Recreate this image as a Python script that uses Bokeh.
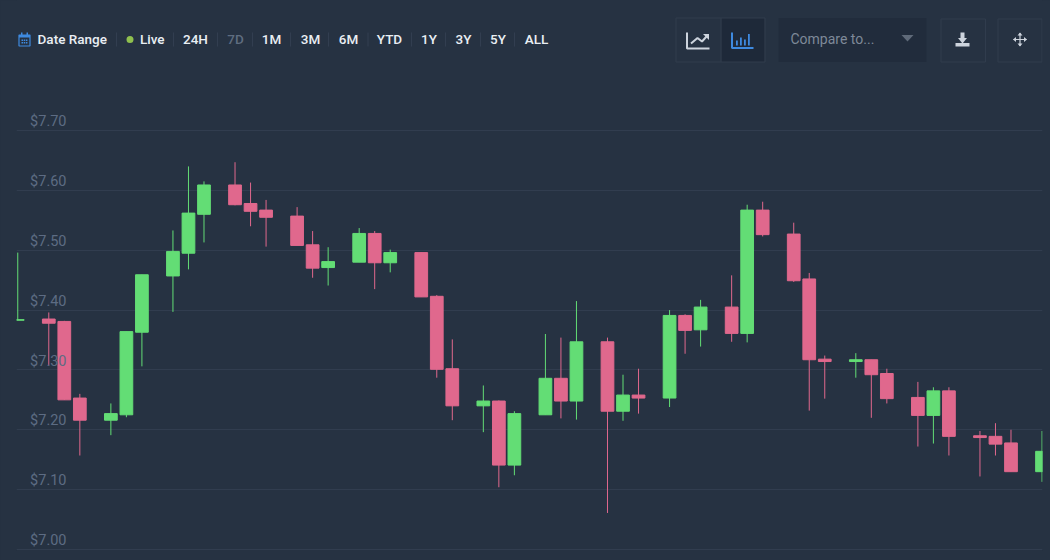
from bokeh.plotting import figure
from bokeh.models import Range1d, FixedTicker, LinearAxis, ColumnDataSource, Grid
from bokeh.core.properties import value
from bokeh.embed import file_html
from bokeh.resources import INLINE

# ---- data ----
index = [-2, 0, 1, 2, 4, 5, 6, 8, 9, 10, 12, 13, 14, 16, 17, 18, 20, 21, 22, 24, 25, 26, 28, 29, 30,
         32, 33, 34, 36, 37, 38, 40, 41, 42, 44, 45, 46, 48, 49, 50, 52, 53, 54, 56, 57, 58, 60, 61, 62, 64]
opens = [7.383, 7.385, 7.381, 7.253, 7.216, 7.225, 7.363, 7.457, 7.495, 7.560, 7.609, 7.578, 7.567,
         7.557, 7.509, 7.471, 7.480, 7.528, 7.479, 7.496, 7.423, 7.302, 7.240, 7.248, 7.141,
         7.225, 7.286, 7.248, 7.347, 7.231, 7.258, 7.253, 7.391, 7.367, 7.405, 7.361, 7.567,
         7.527, 7.452, 7.318, 7.314, 7.317, 7.294, 7.254, 7.224, 7.265, 7.190, 7.189, 7.178, 7.130]
highs = [7.496, 7.396, 7.382, 7.260, 7.244, 7.364, 7.459, 7.533, 7.640, 7.615, 7.647, 7.613, 7.584,
         7.572, 7.532, 7.505, 7.537, 7.532, 7.501, 7.496, 7.425, 7.351, 7.274, 7.249, 7.231,
         7.360, 7.354, 7.415, 7.354, 7.292, 7.302, 7.400, 7.393, 7.417, 7.458, 7.576, 7.581,
         7.546, 7.462, 7.324, 7.328, 7.317, 7.302, 7.280, 7.271, 7.271, 7.198, 7.211, 7.200, 7.198]
lows = [7.383, 7.307, 7.250, 7.157, 7.191, 7.221, 7.306, 7.397, 7.468, 7.513, 7.575, 7.540, 7.506,
        7.508, 7.454, 7.441, 7.480, 7.435, 7.463, 7.422, 7.287, 7.216, 7.196, 7.104, 7.124,
        7.225, 7.219, 7.217, 7.061, 7.215, 7.227, 7.238, 7.327, 7.339, 7.347, 7.346, 7.523,
        7.447, 7.232, 7.252, 7.287, 7.220, 7.244, 7.172, 7.177, 7.157, 7.122, 7.157, 7.130, 7.113]
closes = [7.384, 7.378, 7.250, 7.216, 7.227, 7.364, 7.459, 7.498, 7.562, 7.609, 7.576, 7.565, 7.555,
          7.508, 7.470, 7.481, 7.528, 7.479, 7.496, 7.422, 7.301, 7.240, 7.248, 7.141, 7.227,
          7.286, 7.248, 7.347, 7.231, 7.258, 7.253, 7.391, 7.366, 7.405, 7.361, 7.567, 7.526,
          7.449, 7.317, 7.314, 7.317, 7.292, 7.252, 7.224, 7.265, 7.189, 7.187, 7.176, 7.130, 7.164]
price_ticks = [7.00, 7.10, 7.20, 7.30, 7.40, 7.50, 7.60, 7.70]
range_labels = ["24H", "7D", "1M", "3M", "6M", "YTD", "1Y", "3Y", "5Y", "ALL"]

# ---- colours ----
BG = "#263242"
GREEN = "#63dd75"
PINK = "#e0688d"
GRID = "#313d4f"
TICK = "#5d6c83"
BLUE = "#3e8ae0"
ICON = "#cdd4dd"
FONT = "Roboto"

y0, y1 = 6.9983, 7.9172
p = figure(width=1050, height=560, output_backend="svg", toolbar_location=None,
           x_range=Range1d(-2.081, 64.03), y_range=Range1d(y0, y1),
           x_axis_location=None, y_axis_location=None,
           min_border_left=16, min_border_right=8, min_border_top=0, min_border_bottom=10,
           background_fill_color=BG, border_fill_color=BG,
           outline_line_color=None,
           styles={"position": "fixed", "left": "0", "top": "0", "background-color": BG})
p.xgrid.visible = False
p.ygrid.visible = False
p.extra_x_ranges["px"] = Range1d(16, 1042)
p.extra_y_ranges["py"] = Range1d(550, 0)
# tick labels sit just above their gridlines
p.extra_y_ranges["labels"] = Range1d(y0 - 0.0148, y1 - 0.0148)

axis = LinearAxis(y_range_name="labels", ticker=FixedTicker(ticks=price_ticks), axis_line_color=None,
                  major_tick_line_color=None, minor_tick_line_color=None,
                  major_label_standoff=-56, major_label_text_color=TICK,
                  major_label_text_font=FONT, major_label_text_font_size="14.5px",
                  major_label_overrides={t: f"${t:.2f}" for t in price_ticks})
p.add_layout(axis, "left")
p.add_layout(Grid(dimension=1, ticker=FixedTicker(ticks=price_ticks), grid_line_color=GRID, grid_line_width=1))

colors = [GREEN if c >= o else PINK for o, c in zip(opens, closes)]
src = ColumnDataSource(dict(x=index, o=opens, h=highs, l=lows, c=closes, color=colors))
p.segment("x", "h", "x", "l", source=src, line_color="color", line_width=1)
p.vbar(x="x", top="o", bottom="c", width=0.82, source=src, fill_color="color", line_color="color", line_width=1)

# ---- page chrome, in pixel ranges ----
R = dict(x_range_name="px", y_range_name="py")
def box(l, t, r, b, fill=None, line=None, w=1):
    p.quad(left=[l], right=[r], top=[t], bottom=[b], fill_color=fill, fill_alpha=1 if fill else 0,
           line_color=line, line_alpha=1 if line else 0, line_width=w, **R)
def stroke(xs, ys, color=ICON, w=2):
    p.line(xs, ys, line_color=color, line_width=w, **R)
def poly(xs, ys, color=ICON):
    p.patch(xs, ys, fill_color=color, line_color=None, **R)
def label(x, y, t, color="#e9eef3", size="13.5px", align="center", font="Roboto Medium"):
    p.text([x], [y], text=[t], text_color=color, text_font=value(font), text_font_size=size,
           text_align=align, text_baseline="middle", **R)

# date range bar
box(18.5, 34.5, 29.5, 45.5, line=BLUE, w=1.2)
box(18.5, 34.5, 29.5, 37, fill=BLUE)
box(20.5, 32, 22, 35, fill=BLUE)
box(26, 32, 27.5, 35, fill=BLUE)
for dx in (21, 23.2, 25.4):
    for dy in (39, 41.5):
        box(dx, dy, dx + 1.5, dy + 1.5, fill=BLUE)
label(37, 38.5, "Date Range", align="left")
p.scatter([129.5], [39], size=7, fill_color="#8fc04e", line_color=None, **R)
label(139.5, 38.5, "Live", align="left")
for sx in [116, 173, 217, 252, 290, 328, 367.5, 411, 445, 480, 514]:
    stroke([sx, sx], [32, 46], color="#323e50", w=1)
for cx, t in zip([195, 235, 271, 310, 348, 389, 428.5, 463, 497.5, 536], range_labels):
    label(cx, 38.5, t, color="#5f6d80" if t == "7D" else "#e9eef3")

# chart type buttons
box(721, 17.5, 764, 61.5, fill="#1e2939")
box(675.5, 17.5, 764.5, 61.5, line="#303c4d")
stroke([720.5, 720.5], [17.5, 61.5], color="#303c4d", w=1)
stroke([686.5, 686.5, 709], [32, 48, 48])
stroke([690.5, 697, 701.5, 706], [43, 37.5, 41, 36])
poly([702.5, 708.5, 708.5], [33.5, 33.5, 39.5], ICON)
stroke([731.5, 731.5, 753], [32, 47.5, 47.5], color=BLUE)
for l, t in [(735.5, 40), (739.5, 37), (743.5, 39), (747.5, 33.5)]:
    box(l, t, l + 1.8, 45, fill=BLUE)

# compare selector
box(778, 17.5, 926, 61.5, fill="#212c3c")
label(790, 38.5, "Compare to...", color="#7e8998", size="14px", align="left", font="Roboto")
poly([901, 913, 907], [34.5, 34.5, 41], "#5f6a79")

# download & move buttons
box(940.5, 18.5, 985, 61.5, line="#303c4d")
box(997.5, 18.5, 1041.5, 61.5, line="#303c4d")
box(960, 32, 964, 37.5, fill=ICON)
poly([957.5, 966.5, 962], [37.5, 37.5, 43], ICON)
box(955, 42.5, 969, 46, fill=ICON)
stroke([1013, 1026], [39, 39], w=1.2)
stroke([1019.5, 1019.5], [32.5, 45.5], w=1.2)
poly([1012.5, 1015.5, 1015.5], [39, 36.5, 41.5], ICON)
poly([1026.5, 1023.5, 1023.5], [39, 36.5, 41.5], ICON)
poly([1019.5, 1017, 1022], [32, 35, 35], ICON)
poly([1019.5, 1017, 1022], [46, 43, 43], ICON)

open("out.html", "w").write(file_html(p, INLINE))
